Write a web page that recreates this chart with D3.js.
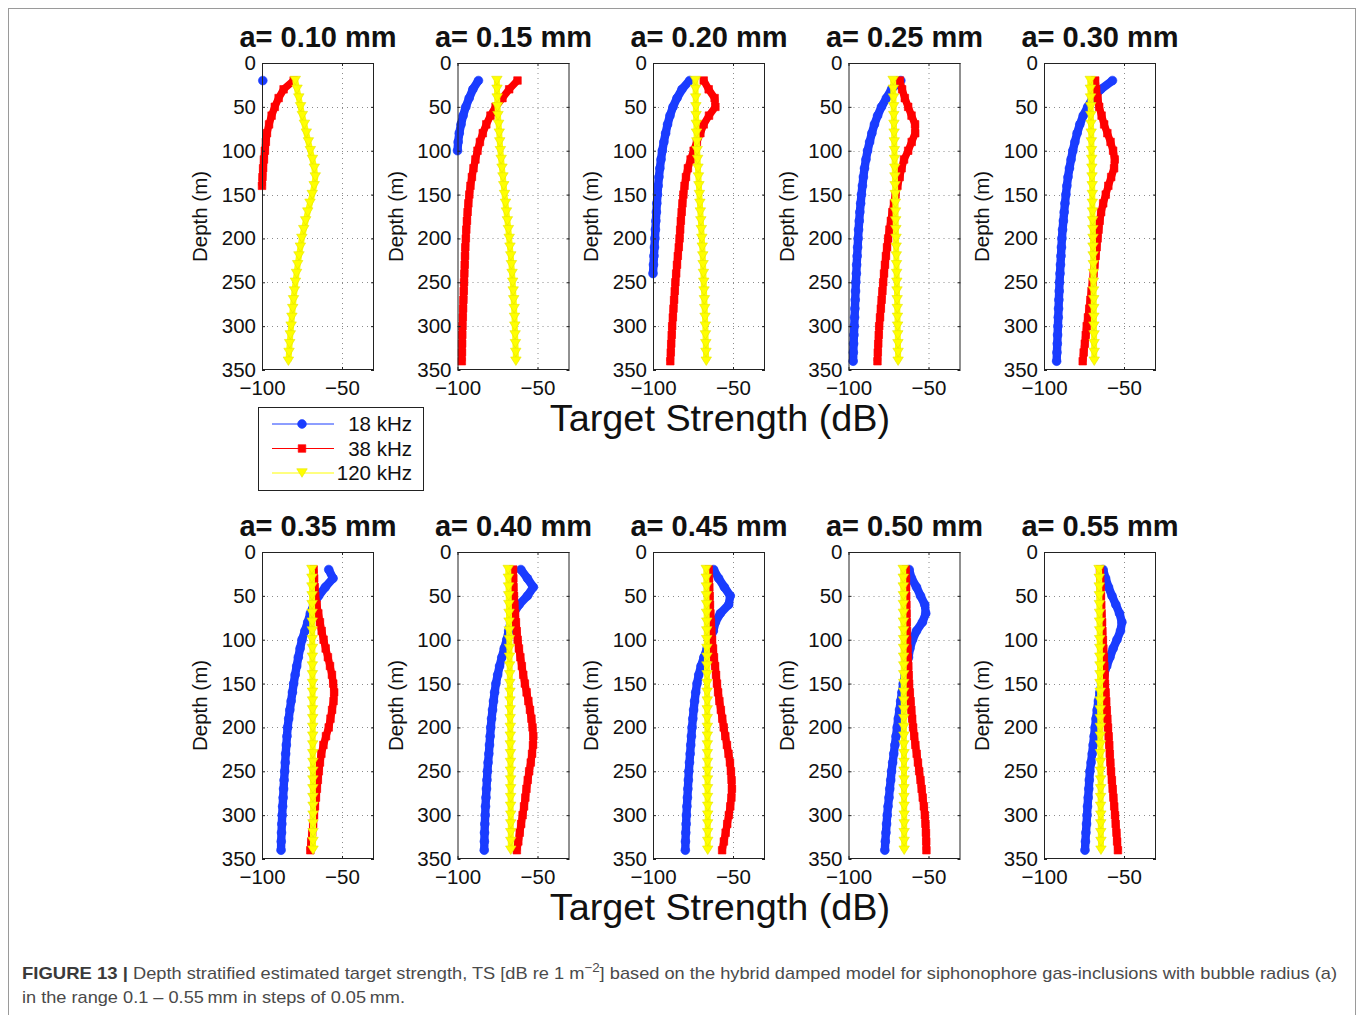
<!DOCTYPE html>
<html>
<head>
<meta charset="utf-8">
<script src="https://cdn.jsdelivr.net/npm/d3@7"></script>
<style>
  body { margin: 0; background: #fff; }
  svg text { font-family: "Liberation Sans", Arial, Helvetica, sans-serif; }
</style>
</head>
<body>
<svg id="fig" width="1358" height="1015"></svg>
<script>
// Bubble radius of each panel (mm)
const radii = ["0.10", "0.15", "0.20", "0.25", "0.30", "0.35", "0.40", "0.45", "0.50", "0.55"];

// Depth of each model layer (m)
const depths = [20, 30, 40, 50, 60, 70, 80, 90, 100, 110, 120, 130, 140, 150, 160, 170, 180,
                190, 200, 210, 220, 230, 240, 250, 260, 270, 280, 290, 300, 310, 320, 330, 340];

// Target strength (dB) at 18 kHz, one row per bubble radius, from the shallowest layer down
const ts18 = [
  [-99.5],
  [-86.9,-90.4,-92.7,-94.8,-96.5,-97.8,-98.9,-99.6,-100.0],
  [-77.1,-81.9,-85.0,-87.5,-89.4,-90.9,-92.1,-93.2,-94.2,-95.0,-95.7,-96.3,-96.8,-97.2,-97.6,-97.9,-98.2,-98.5,-98.8,-99.1,-99.4,-99.7,-100.0],
  [-67.3,-73.1,-76.3,-79.4,-81.8,-83.8,-85.4,-86.8,-88.1,-89.1,-90.0,-90.7,-91.3,-91.9,-92.4,-92.9,-93.3,-93.7,-94.0,-94.3,-94.6,-94.9,-95.1,-95.4,-95.6,-95.8,-96.0,-96.2,-96.4,-96.6,-96.8,-97.0,-97.1],
  [-57.2,-64.5,-69.6,-72.7,-75.5,-77.6,-79.3,-80.7,-82.0,-83.1,-84.1,-85.0,-85.7,-86.3,-86.9,-87.4,-87.9,-88.4,-88.8,-89.1,-89.4,-89.7,-90.0,-90.3,-90.5,-90.7,-90.9,-91.1,-91.3,-91.5,-91.7,-91.9,-92.1],
  [-58.3,-55.6,-60.4,-64.6,-67.7,-69.8,-71.4,-73.2,-75.0,-76.2,-77.3,-78.3,-79.3,-80.2,-81.0,-81.8,-82.6,-83.3,-84.0,-84.4,-84.8,-85.2,-85.5,-85.8,-86.2,-86.5,-86.8,-87.1,-87.4,-87.6,-87.8,-88.0,-88.1],
  [-60.4,-56.3,-52.6,-56.3,-61.5,-65.0,-66.8,-68.0,-69.2,-70.8,-72.3,-73.7,-74.9,-76.0,-76.8,-77.5,-78.1,-78.7,-79.2,-79.6,-80.0,-80.4,-80.9,-81.3,-81.6,-81.9,-82.2,-82.5,-82.7,-82.9,-83.1,-83.2,-83.3],
  [-62.1,-59.0,-55.4,-51.7,-52.7,-57.9,-61.0,-62.3,-64.2,-66.2,-68.2,-70.0,-71.4,-72.5,-73.3,-74.0,-74.6,-75.1,-75.6,-76.0,-76.4,-76.8,-77.2,-77.6,-77.9,-78.2,-78.5,-78.8,-79.1,-79.3,-79.5,-79.7,-79.8],
  [-62.1,-60.6,-57.5,-55.0,-52.3,-51.7,-53.8,-57.5,-60.0,-61.6,-62.5,-63.5,-64.6,-65.8,-66.6,-67.4,-68.1,-68.9,-69.6,-70.3,-71.0,-71.7,-72.4,-73.1,-73.6,-74.2,-74.7,-75.3,-75.8,-76.2,-76.6,-77.0,-77.3],
  [-63.1,-61.5,-59.7,-57.5,-55.1,-52.8,-51.3,-52.2,-54.4,-56.8,-58.8,-60.8,-62.5,-64.0,-65.1,-66.0,-66.8,-67.5,-68.1,-68.7,-69.3,-69.9,-70.6,-71.3,-71.7,-72.0,-72.4,-72.8,-73.1,-73.4,-73.8,-74.1,-74.4]
];

// Target strength (dB) at 38 kHz
const ts38 = [
  [-80.2,-86.5,-89.6,-92.0,-94.0,-95.6,-96.9,-97.6,-98.2,-98.8,-99.3,-99.7,-100.0],
  [-62.5,-67.7,-71.9,-76.2,-79.4,-82.0,-84.2,-86.0,-87.5,-88.8,-90.0,-91.0,-91.9,-92.6,-93.2,-93.7,-94.1,-94.5,-94.8,-95.1,-95.3,-95.5,-95.7,-95.9,-96.1,-96.3,-96.5,-96.7,-96.9,-97.0,-97.1,-97.2,-97.3],
  [-68.3,-65.2,-61.5,-61.0,-65.0,-68.3,-70.4,-72.6,-74.6,-76.5,-78.2,-79.4,-80.3,-81.0,-81.6,-82.1,-82.6,-83.0,-83.4,-83.9,-84.5,-85.0,-85.5,-86.0,-86.4,-86.8,-87.2,-87.6,-88.0,-88.3,-88.6,-88.9,-89.2],
  [-67.9,-66.5,-64.8,-62.7,-60.6,-58.4,-58.3,-60.5,-62.7,-65.3,-66.8,-68.0,-69.4,-70.6,-71.6,-72.6,-73.5,-74.4,-75.2,-75.9,-76.6,-77.2,-77.8,-78.3,-78.8,-79.3,-79.8,-80.3,-80.8,-81.1,-81.4,-81.7,-81.9],
  [-68.0,-67.4,-66.5,-65.5,-64.0,-62.4,-60.4,-58.4,-56.8,-55.8,-56.2,-58.0,-59.8,-61.4,-63.0,-64.3,-65.2,-65.9,-66.5,-67.1,-67.7,-68.4,-69.0,-69.6,-70.3,-71.0,-71.7,-72.5,-73.3,-73.9,-74.5,-75.2,-75.8],
  [-67.7,-67.4,-67.1,-66.7,-65.8,-64.8,-63.8,-62.7,-61.5,-60.2,-58.8,-57.5,-56.3,-55.5,-54.9,-55.3,-56.2,-57.2,-58.3,-60.0,-61.6,-62.9,-63.8,-64.5,-65.1,-65.7,-66.3,-66.9,-67.5,-68.0,-68.6,-69.2,-69.8],
  [-65.2,-65.1,-65.0,-64.7,-64.4,-64.0,-63.5,-63.0,-62.4,-61.6,-60.7,-59.8,-58.9,-57.9,-56.8,-55.7,-54.7,-53.8,-53.1,-52.6,-52.8,-53.4,-54.2,-55.2,-56.1,-56.9,-57.6,-58.4,-59.3,-60.2,-61.1,-62.0,-62.9],
  [-65.2,-65.0,-64.8,-64.6,-64.4,-64.1,-63.8,-63.5,-63.1,-62.5,-61.9,-61.2,-60.6,-60.0,-59.3,-58.5,-57.6,-56.7,-55.8,-54.8,-53.8,-52.8,-51.9,-51.3,-50.9,-50.7,-51.0,-51.7,-52.6,-53.6,-54.6,-55.7,-56.8],
  [-64.2,-64.1,-64.0,-63.9,-63.8,-63.7,-63.6,-63.5,-63.3,-63.1,-62.9,-62.6,-62.4,-62.1,-61.7,-61.2,-60.7,-60.2,-59.6,-58.9,-58.2,-57.4,-56.6,-55.8,-55.0,-54.3,-53.6,-52.9,-52.3,-51.9,-51.6,-51.4,-51.3],
  [-65.0,-64.8,-64.6,-64.4,-64.2,-64.0,-63.7,-63.5,-63.2,-62.9,-62.6,-62.3,-62.1,-61.9,-61.5,-61.1,-60.8,-60.4,-60.0,-59.6,-59.2,-58.9,-58.5,-58.1,-57.6,-57.1,-56.6,-56.1,-55.6,-55.2,-54.7,-54.3,-53.8]
];

// Target strength (dB) at 120 kHz
const ts120 = [
  [-79.2,-78.1,-77.0,-75.9,-74.8,-73.5,-72.3,-71.0,-69.8,-68.5,-67.3,-66.7,-67.4,-68.6,-70.0,-71.4,-72.7,-73.9,-75.1,-76.0,-76.9,-77.7,-78.4,-79.1,-79.7,-80.3,-80.8,-81.3,-81.8,-82.3,-82.7,-83.1,-83.5],
  [-75.4,-75.3,-75.2,-75.0,-74.7,-74.3,-73.9,-73.6,-73.2,-72.7,-72.2,-71.6,-71.1,-70.6,-70.0,-69.4,-68.8,-68.2,-67.7,-67.2,-66.7,-66.3,-65.9,-65.5,-65.2,-64.9,-64.6,-64.4,-64.2,-64.0,-63.8,-63.6,-63.5],
  [-73.5,-73.4,-73.3,-73.2,-73.1,-72.9,-72.8,-72.6,-72.4,-72.1,-71.9,-71.6,-71.3,-71.0,-70.7,-70.4,-70.1,-69.8,-69.5,-69.2,-68.9,-68.7,-68.5,-68.3,-68.1,-67.9,-67.7,-67.5,-67.3,-67.2,-67.0,-66.9,-66.7],
  [-72.1,-72.0,-71.9,-71.8,-71.7,-71.6,-71.5,-71.4,-71.3,-71.2,-71.1,-71.0,-70.9,-70.8,-70.7,-70.6,-70.5,-70.4,-70.3,-70.2,-70.1,-70.0,-69.9,-69.8,-69.7,-69.6,-69.5,-69.4,-69.3,-69.2,-69.1,-69.0,-69.0],
  [-71.1,-71.0,-70.9,-70.8,-70.7,-70.6,-70.5,-70.4,-70.3,-70.2,-70.1,-70.0,-69.9,-69.8,-69.8,-69.7,-69.6,-69.5,-69.4,-69.4,-69.3,-69.2,-69.1,-69.1,-69.0,-68.9,-68.9,-68.8,-68.8,-68.7,-68.7,-68.6,-68.6],
  [-68.8,-68.8,-68.8,-68.7,-68.7,-68.7,-68.6,-68.6,-68.6,-68.5,-68.5,-68.5,-68.5,-68.4,-68.4,-68.4,-68.4,-68.3,-68.3,-68.3,-68.3,-68.3,-68.2,-68.2,-68.2,-68.2,-68.2,-68.1,-68.1,-68.1,-68.1,-68.1,-68.1],
  [-68.3,-68.2,-68.1,-68.0,-67.9,-67.8,-67.8,-67.7,-67.6,-67.5,-67.5,-67.4,-67.3,-67.3,-67.2,-67.2,-67.1,-67.1,-67.0,-67.0,-67.0,-66.9,-66.9,-66.9,-66.8,-66.8,-66.8,-66.8,-66.7,-66.7,-66.7,-66.7,-66.7],
  [-66.7,-66.7,-66.6,-66.6,-66.5,-66.5,-66.4,-66.4,-66.4,-66.3,-66.3,-66.3,-66.2,-66.2,-66.2,-66.1,-66.1,-66.1,-66.0,-66.0,-66.0,-66.0,-65.9,-65.9,-65.9,-65.9,-65.9,-65.8,-65.8,-65.8,-65.8,-65.8,-65.8],
  [-65.8,-65.8,-65.8,-65.7,-65.7,-65.7,-65.7,-65.6,-65.6,-65.6,-65.6,-65.5,-65.5,-65.5,-65.5,-65.5,-65.4,-65.4,-65.4,-65.4,-65.4,-65.3,-65.3,-65.3,-65.3,-65.3,-65.3,-65.2,-65.2,-65.2,-65.2,-65.2,-65.2],
  [-65.6,-65.5,-65.5,-65.4,-65.4,-65.3,-65.3,-65.2,-65.2,-65.1,-65.1,-65.0,-65.0,-65.0,-64.9,-64.9,-64.9,-64.8,-64.8,-64.8,-64.7,-64.7,-64.7,-64.7,-64.6,-64.6,-64.6,-64.6,-64.5,-64.5,-64.5,-64.4,-64.4]
];

// Axis tick values
const xTicks = [-100, -50];
const yTicks = [0, 50, 100, 150, 200, 250, 300, 350];

// Legend entries
const freqLabels = ["18 kHz", "38 kHz", "120 kHz"];

// ---------------------------------------------------------------
const svg = d3.select("#fig");
const FONT = "'Liberation Sans', Arial, Helvetica, sans-serif";

// outer frame of the figure
svg.append("rect")
  .attr("x", 8.5).attr("y", 8.5).attr("width", 1347).attr("height", 1040)
  .attr("fill", "none").attr("stroke", "#9a9a9a").attr("stroke-width", 1);

const panelW = 112, panelH = 307;
const lefts = [262, 457.5, 653, 848.5, 1044];
const tops = [63, 552];

const x = d3.scaleLinear().domain([-100, -30]).range([0, panelW]);
const y = d3.scaleLinear().domain([0, 350]).range([0, panelH]);

// marker styles; "band" is the width of the trail left by the densely packed markers
const series = [
  { data: ts18,  color: "#1a3cff", stroke: "#1a3cff", shape: "circle",   band: 8.4 },
  { data: ts38,  color: "#ff0000", stroke: "#ff0000", shape: "square",   band: 7.4 },
  { data: ts120, color: "#ffff00", stroke: "#e4e400", shape: "triangle", band: 6.0 }
];

const symbolGen = {
  circle: d3.symbol().type(d3.symbolCircle).size(Math.PI * 4.4 * 4.4),
  square: d3.symbol().type(d3.symbolSquare).size(7.6 * 7.6)
};
// downward pointing triangle
function triPath(w, h) {
  return `M${-w / 2},${-h / 2}L${w / 2},${-h / 2}L0,${h / 2}Z`;
}

function drawMarker(g, shape, color, stroke) {
  if (shape === "triangle") {
    g.append("path").attr("d", triPath(10.5, 8.5)).attr("fill", color)
      .attr("stroke", stroke).attr("stroke-width", 0.6);
  } else {
    g.append("path").attr("d", symbolGen[shape]()).attr("fill", color)
      .attr("stroke", stroke).attr("stroke-width", 0.6);
  }
}

radii.forEach((r, p) => {
  const col = p % 5, row = Math.floor(p / 5);
  const g = svg.append("g").attr("transform", `translate(${lefts[col]},${tops[row]})`);

  // plot area background
  g.append("rect").attr("width", panelW).attr("height", panelH).attr("fill", "#fff");

  // dotted grid
  const grid = g.append("g").attr("stroke", "#8c8c8c").attr("stroke-width", 1)
    .attr("stroke-dasharray", "1,4");
  grid.selectAll("line.h").data(yTicks.slice(1, -1)).join("line")
    .attr("x1", 0).attr("x2", panelW)
    .attr("y1", d => Math.round(y(d)) + 0.5).attr("y2", d => Math.round(y(d)) + 0.5);
  grid.selectAll("line.v").data(xTicks.slice(1)).join("line")
    .attr("y1", 0).attr("y2", panelH)
    .attr("x1", d => Math.round(x(d)) + 0.5).attr("x2", d => Math.round(x(d)) + 0.5);

  // series: marker trail then markers, yellow drawn last
  const clip = "clip" + p;
  g.append("clipPath").attr("id", clip).append("rect")
    .attr("x", -8).attr("y", -8).attr("width", panelW + 16).attr("height", panelH + 16);
  const plot = g.append("g").attr("clip-path", `url(#${clip})`);

  series.forEach(s => {
    const pts = s.data[p].map((v, i) => [v, depths[i]]);
    if (pts.length > 1) {
      plot.append("path")
        .attr("d", d3.line().x(d => x(d[0])).y(d => y(d[1]))(pts))
        .attr("fill", "none").attr("stroke", s.color).attr("stroke-width", s.band)
        .attr("stroke-linejoin", "round").attr("stroke-linecap", "butt");
    }
    pts.forEach(d => {
      const m = plot.append("g").attr("transform", `translate(${x(d[0])},${y(d[1])})`);
      drawMarker(m, s.shape, s.color, s.stroke);
    });
  });

  // axes
  const ax = d3.axisLeft(y).tickValues(yTicks).tickSize(-3).tickPadding(6);
  const ay = g.append("g").call(ax);
  const bx = d3.axisBottom(x).tickValues(xTicks).tickSize(-3).tickPadding(10);
  const by = g.append("g").attr("transform", `translate(0,${panelH})`).call(bx);
  const tx = d3.axisTop(x).tickValues(xTicks).tickSize(-3).tickFormat("");
  const ty = d3.axisRight(y).tickValues(yTicks).tickSize(-3).tickFormat("");
  g.append("g").call(tx);
  g.append("g").attr("transform", `translate(${panelW},0)`).call(ty);
  g.selectAll(".domain").remove();
  g.selectAll(".tick line").attr("stroke", "#222");
  [ay, by].forEach(a => a.selectAll("text")
    .attr("font-family", FONT).attr("font-size", 20.5).attr("fill", "#111"));

  // box
  g.append("rect").attr("x", 0.5).attr("y", 0.5).attr("width", panelW - 1).attr("height", panelH - 1)
    .attr("fill", "none").attr("stroke", "#222").attr("stroke-width", 1);

  // axis label
  g.append("text")
    .attr("transform", `translate(-55,${panelH / 2}) rotate(-90)`)
    .attr("text-anchor", "middle").attr("font-family", FONT).attr("font-size", 20.5)
    .attr("fill", "#111").text("Depth (m)");

  // title
  g.append("text").attr("x", panelW / 2).attr("y", -16)
    .attr("text-anchor", "middle").attr("font-family", FONT).attr("font-size", 29)
    .attr("font-weight", "bold").attr("fill", "#111").text(`a= ${r} mm`);
});

// shared x label under each row
[431, 920].forEach(by => {
  svg.append("text").attr("x", 720).attr("y", by).attr("text-anchor", "middle")
    .attr("font-family", FONT).attr("font-size", 37.8).attr("fill", "#111")
    .text("Target Strength (dB)");
});

// legend
const lg = svg.append("g").attr("transform", "translate(258,407)");
lg.append("rect").attr("x", 0.5).attr("y", 0.5).attr("width", 165).attr("height", 83)
  .attr("fill", "#fff").attr("stroke", "#222").attr("stroke-width", 1);
freqLabels.forEach((lab, i) => {
  const cy = 17 + i * 24.5;
  const s = series[i];
  lg.append("line").attr("x1", 14).attr("x2", 76).attr("y1", cy).attr("y2", cy)
    .attr("stroke", s.color).attr("stroke-width", 1);
  const m = lg.append("g").attr("transform", `translate(44,${cy})`);
  drawMarker(m, s.shape, s.color, s.stroke);
  lg.append("text").attr("x", 154).attr("y", cy + 7).attr("text-anchor", "end")
    .attr("font-family", FONT).attr("font-size", 20.5).attr("fill", "#111").text(lab);
});

// caption
const CAP = "'Liberation Sans', Arial, sans-serif";
svg.append("text").attr("x", 22).attr("y", 979)
  .attr("font-family", CAP).attr("font-size", 17).attr("font-weight", "bold").attr("fill", "#3a3a3a")
  .attr("textLength", 106).attr("lengthAdjust", "spacingAndGlyphs").text("FIGURE 13 |");
const cap1 = svg.append("text").attr("x", 133).attr("y", 979)
  .attr("font-family", CAP).attr("font-size", 17).attr("fill", "#4a4a4a")
  .attr("textLength", 1204).attr("lengthAdjust", "spacingAndGlyphs");
cap1.append("tspan").text("Depth stratified estimated target strength, TS [dB re 1 m");
cap1.append("tspan").attr("dy", -7).attr("font-size", 12.5).text("\u22122");
cap1.append("tspan").attr("dy", 7).text("] based on the hybrid damped model for siphonophore gas-inclusions with bubble radius (a)");
svg.append("text").attr("x", 22).attr("y", 1003)
  .attr("font-family", CAP).attr("font-size", 17).attr("fill", "#4a4a4a")
  .attr("textLength", 383).attr("lengthAdjust", "spacingAndGlyphs")
  .text("in the range 0.1 \u2013 0.55\u2009mm in steps of 0.05\u2009mm.");
</script>
</body>
</html>
